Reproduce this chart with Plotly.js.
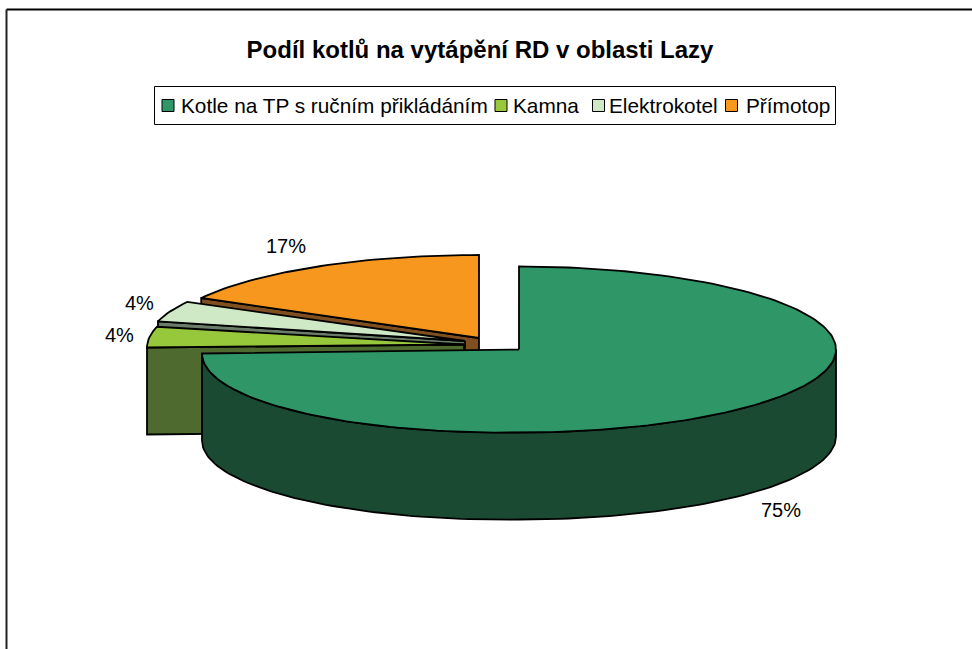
<!DOCTYPE html>
<html>
<head>
<meta charset="utf-8">
<script src="https://cdn.plot.ly/plotly-3.0.1.min.js"></script>
<style>html,body{margin:0;padding:0;background:#fff}</style>
</head>
<body>
<div id="chart" style="width:972px;height:649px"></div>
<script>
// Data
const categories = ['Kotle na TP s ručním přikládáním', 'Kamna', 'Elektrokotel', 'Přímotop'];
const shares = [75, 4, 4, 17];
const chartTitle = 'Podíl kotlů na vytápění RD v oblasti Lazy';
const topColors = ['#2F9767', '#97C83C', '#CFE8C6', '#F7971E'];
const wallColors = ['#1B4A33', '#4F6A2E', '#6A7D68', '#7F4F20'];

// Projection of the tilted pie
const rx = 317, ry = 83, depth = 87;
const tilts = [4 / 317, 3 / 317, 1 / 317, 0];
const apexes = [[519, 349.5], [464, 344.5], [465, 341], [479, 338]];
const labelAnchors = [[781, 510], [119, 335], [139, 303], [286, 246]];
const legendSwatchX = [168, 501, 598.5, 731.5];
const legendTextX = [180, 512, 608, 745];
const legendY = 105.5;

const total = shares.reduce((a, b) => a + b, 0);
function project(i, deg) {
  const t = deg * Math.PI / 180;
  const dx = rx * Math.sin(t);
  return [apexes[i][0] + dx, apexes[i][1] - ry * Math.cos(t) - tilts[i] * Math.min(dx, 0)];
}
function arc(i, from, to) {
  const pts = [];
  const n = Math.max(2, Math.ceil(Math.abs(to - from) / 1.5));
  for (let k = 0; k <= n; k++) pts.push(project(i, from + (to - from) * k / n));
  return pts;
}
function poly(pts, fill) {
  return {
    type: 'scatter', mode: 'lines', fill: 'toself', fillcolor: fill,
    x: pts.map(p => p[0]), y: pts.map(p => p[1]),
    line: {color: '#000', width: 1.8},
    showlegend: false, hoverinfo: 'skip'
  };
}

// slice angles: clockwise from 12 o'clock, first category first
let running = 0;
const spans = shares.map(v => {
  const s = [running, running + v / total * 360];
  running = s[1];
  return s;
});

const traces = [];
// paint from the back slice to the front slice
[3, 2, 1, 0].forEach(i => {
  const [from, to] = spans[i];
  const apex = apexes[i];
  const down = p => [p[0], p[1] + depth];
  if (i !== 0) {
    // cut face towards the viewer (start of the slice)
    const start = project(i, from);
    traces.push(poly([apex, start, down(start), down(apex), apex], wallColors[i]));
  } else {
    // rim facing the viewer runs from the 3 o'clock point to the 9 o'clock point
    const rim = arc(i, 90, 270);
    traces.push(poly(rim.concat(rim.slice().reverse().map(down)).concat([rim[0]]), wallColors[i]));
  }
  traces.push(poly([apex].concat(arc(i, from, to)).concat([apex]), topColors[i]));
});

// legend swatches
traces.push({
  type: 'scatter', mode: 'markers', x: legendSwatchX, y: categories.map(() => legendY),
  marker: {symbol: 'square', size: 12, color: topColors, line: {color: '#000', width: 1}},
  text: categories, showlegend: false, hoverinfo: 'skip'
});

const baseFont = 'Liberation Sans, Arial, sans-serif';
const layout = {
  width: 972, height: 649,
  margin: {l: 0, r: 0, t: 0, b: 0},
  paper_bgcolor: '#fff', plot_bgcolor: '#fff',
  font: {family: baseFont, color: '#000'},
  title: {
    text: '<b>' + chartTitle + '</b>',
    font: {family: baseFont, size: 24, color: '#000'},
    x: 480 / 972, xanchor: 'center', y: 1 - 50 / 649, yanchor: 'middle'
  },
  xaxis: {range: [0, 972], visible: false, fixedrange: true},
  yaxis: {range: [649, 0], visible: false, fixedrange: true},
  showlegend: false,
  shapes: [
    {type: 'line', xref: 'x', yref: 'y', x0: 6.5, y0: 9.5, x1: 972, y1: 9.5, line: {color: '#000', width: 2}},
    {type: 'line', xref: 'x', yref: 'y', x0: 6.5, y0: 9.5, x1: 6.5, y1: 649, line: {color: '#222', width: 2}},
    {type: 'rect', xref: 'x', yref: 'y', x0: 154.5, y0: 86.5, x1: 835.5, y1: 124.5, line: {color: '#000', width: 1}}
  ],
  annotations: shares.map((v, i) => ({
    text: v + '%', xref: 'x', yref: 'y', x: labelAnchors[i][0], y: labelAnchors[i][1],
    showarrow: false, xanchor: 'center', yanchor: 'middle',
    font: {family: baseFont, size: 20, color: '#000'}
  })).concat(categories.map((t, i) => ({
    text: t, xref: 'x', yref: 'y', x: legendTextX[i], y: legendY,
    showarrow: false, xanchor: 'left', yanchor: 'middle', xshift: -1,
    font: {family: baseFont, size: 20.8, color: '#000'}
  })))
};
Plotly.newPlot('chart', traces, layout, {displayModeBar: false, staticPlot: true});
</script>
</body>
</html>
